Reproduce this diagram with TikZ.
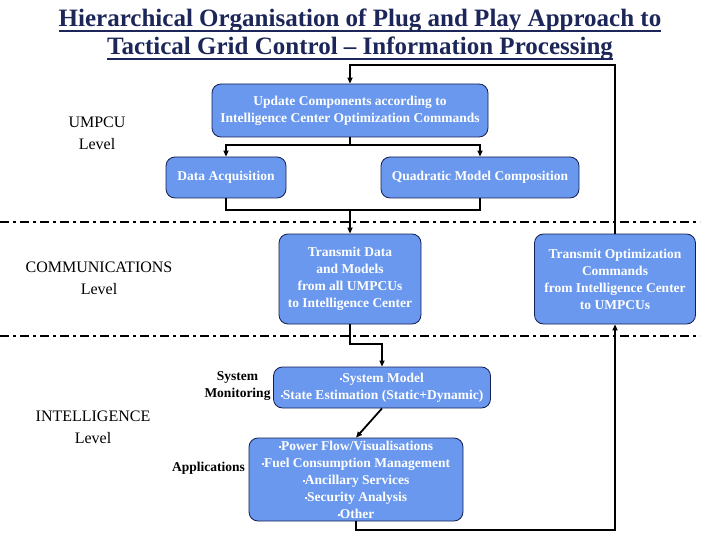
\documentclass[tikz,border=0pt]{standalone}
\usepackage{fontspec}
\setmainfont{Liberation Serif}
\usetikzlibrary{arrows.meta}
\definecolor{boxblue}{RGB}{105,152,238}
\definecolor{navy}{RGB}{20,30,80}
\definecolor{titlenavy}{RGB}{28,38,88}
\newcommand{\bul}{\rule[0.32ex]{2.2pt}{2.2pt}}
\newcommand{\tul}[1]{\setbox0\hbox{#1}\rlap{\rule[-5pt]{\wd0}{1.8pt}}\box0}
\tikzset{
  x=1pt,y=-1pt,
  box/.style={draw=navy, line width=0.8pt, fill=boxblue, rounded corners=9pt, text=white,
    font=\fontsize{13.5}{17}\selectfont\bfseries, align=center, inner sep=1pt},
  lvl/.style={font=\fontsize{16}{22}\selectfont, align=center, inner sep=0pt},
  sub/.style={font=\fontsize{13.5}{17}\selectfont\bfseries, align=center, inner sep=0pt},
  conn/.style={line width=1.8pt, black},
  arr/.style={conn, -{Triangle[length=6pt,width=5pt]}},
  sep/.style={line width=2.6pt, dash pattern=on 9pt off 4pt on 3pt off 4pt},
  ttl/.style={font=\fontsize{25}{29}\selectfont\bfseries, text=titlenavy, inner sep=0pt, anchor=base}
}
\begin{document}
\begin{tikzpicture}
\useasboundingbox (0,0) rectangle (720,540);
% title
\node[ttl] (t1) at (360,27) {\tul{Hierarchical Organisation of Plug and Play Approach to}};
\node[ttl] (t2) at (360,55) {\tul{Tactical Grid Control – Information Processing}};
% separators
\draw[sep] (0,222) -- (700,222);
\draw[sep] (0,336) -- (700,336);
% boxes
\node[box, minimum width=276pt, minimum height=53pt] (upd) at (350,110.5) {Update Components according to\\Intelligence Center Optimization Commands};
\node[box, minimum width=120pt, minimum height=41pt] (da) at (226,177.5) {Data Acquisition};
\node[box, minimum width=198pt, minimum height=41pt] (qmc) at (480,177.5) {Quadratic Model Composition};
\node[box, minimum width=142pt, minimum height=90pt] (td) at (350,279) {Transmit Data\\and Models\\from all UMPCUs\\to Intelligence Center};
\node[box, minimum width=161pt, minimum height=90pt] (to) at (615,279) {Transmit Optimization\\Commands\\from Intelligence Center\\to UMPCUs};
\node[box, minimum width=217pt, minimum height=41pt] (sm) at (382,387.5) {\bul System Model\\\bul State Estimation (Static+Dynamic)};
\node[box, minimum width=214pt, minimum height=83pt] (app) at (356,479.5) {\bul Power Flow/Visualisations\\\bul Fuel Consumption Management\\\bul Ancillary Services\\\bul Security Analysis\\\bul Other};
% labels
\node[lvl] (l1) at (97,133) {UMPCU\\Level};
\node[lvl] (l2) at (99,278) {COMMUNICATIONS\\Level};
\node[lvl] (l3) at (93,427) {INTELLIGENCE\\Level};
\node[sub] (l4) at (237.5,386.5) {System\\Monitoring};
\node[sub, anchor=east] (l5) at (245,468) {Applications};
% connectors
\coordinate (top) at (350,65);
\coordinate (s1) at (350,145);
\coordinate (m1) at (350,210);
\coordinate (j1) at (382,344);
\coordinate (b1) at (615,530);
\draw[arr] (to.north) |- (top) -- (upd.north);
\draw[conn] (upd.south) -- (s1);
\draw[arr] (s1) -| (da.north);
\draw[arr] (s1) -| (qmc.north);
\draw[conn] (da.south) |- (m1);
\draw[conn] (qmc.south) |- (m1);
\draw[arr] (m1) -- (td.north);
\draw[arr] (td.south) |- (j1) -- (sm.north);
\draw[arr] (sm.south) -- (app.north);
\draw[arr] (app.south) |- (b1) -- (to.south);
\end{tikzpicture}
\end{document}
